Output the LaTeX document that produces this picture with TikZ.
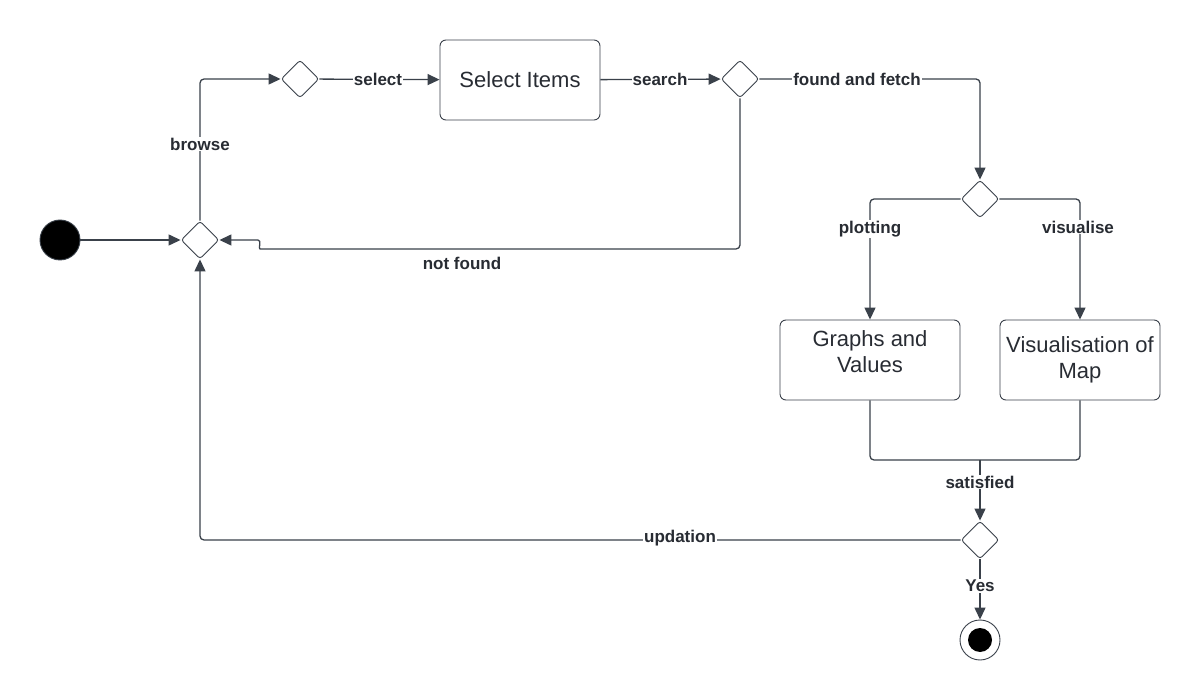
\documentclass[tikz,border=0pt]{standalone}
\usepackage{fontspec}
\setmainfont{Liberation Sans}
\usetikzlibrary{arrows.meta,shapes.geometric}
\definecolor{ln}{HTML}{3A414A}
\definecolor{tx}{HTML}{282C33}
\begin{document}
\begin{tikzpicture}[x=1pt,y=-1pt,
 dec/.style={diamond, draw=ln, line width=0.9pt, fill=white, minimum width=38pt, minimum height=38pt, inner sep=0pt, rounded corners=3pt},
 act/.style={rectangle, draw=ln, line width=0.9pt, rounded corners=6pt, text=tx, font=\fontsize{22}{26}\selectfont, align=center, inner sep=0pt, minimum width=160pt, minimum height=80pt},
 flow/.style={draw=ln, line width=1.3pt, -{Triangle[length=12pt,width=11pt]}, rounded corners=4pt},
 plain/.style={draw=ln, line width=1.3pt, rounded corners=4pt},
 lbl/.style={fill=white, text=tx, font=\bfseries\fontsize{17}{20}\selectfont, inner sep=1pt},
]
\useasboundingbox (0,0) rectangle (1200,700);
\fill[white] (0,0) rectangle (1200,700);

\node[circle, fill=black, draw=ln, line width=0.9pt, minimum size=40pt, inner sep=0pt] (start) at (60,240) {};
\node[dec] (d1) at (200,240) {};
\node[dec] (d2) at (300,79) {};
\node[act] (sel) at (520,80) {Select Items};
\node[dec] (d3) at (740,79) {};
\node[dec] (d4) at (980,199) {};
\node[act, minimum width=180pt] (gr) at (870,360) {Graphs and\\Values\\[-10pt]\mbox{}};
\node[act] (vis) at (1080,360) {Visualisation of\\Map};
\node[dec] (d5) at (980,540) {};
\node[circle, draw=ln, line width=0.9pt, fill=white, minimum size=40pt, inner sep=0pt] (end) at (980,640) {};
\node[circle, fill=black, minimum size=24pt, inner sep=0pt] (endin) at (980,640) {};
\coordinate (m) at (980,460);

\draw[flow] (start) -- (d1);
\draw[flow] (d1.north) |- (d2.west);
\draw[flow] (d2) -- (sel);
\draw[flow] (sel) -- (d3);
\draw[flow] (d3.east) -| (d4.north);
\draw[flow] (d3.south) |- (264,249) .. controls (258,249) and (262,240) .. (254,240) -- (d1.east);
\draw[flow] (d4.west) -| (gr.north);
\draw[flow] (d4.east) -| (vis.north);
\draw[plain] (gr.south) |- (m) -| (vis.south);
\draw[flow] (m) -- (d5.north);
\draw[flow] (d5.west) -| (d1.south);
\draw[flow] (d5.south) -- (end);

\node[lbl] at (200,144) {browse};
\node[lbl] at (378,79) {select};
\node[lbl] at (660,79) {search};
\node[lbl] at (857,79) {found and fetch};
\node[lbl] at (462,263) {not found};
\node[lbl] at (870,229) {plotting};
\node[lbl] at (1078,227) {visualise};
\node[lbl] at (980,482) {satisfied};
\node[lbl] at (980,586) {Yes};
\node[lbl] at (680,538) {updation};
\end{tikzpicture}
\end{document}
